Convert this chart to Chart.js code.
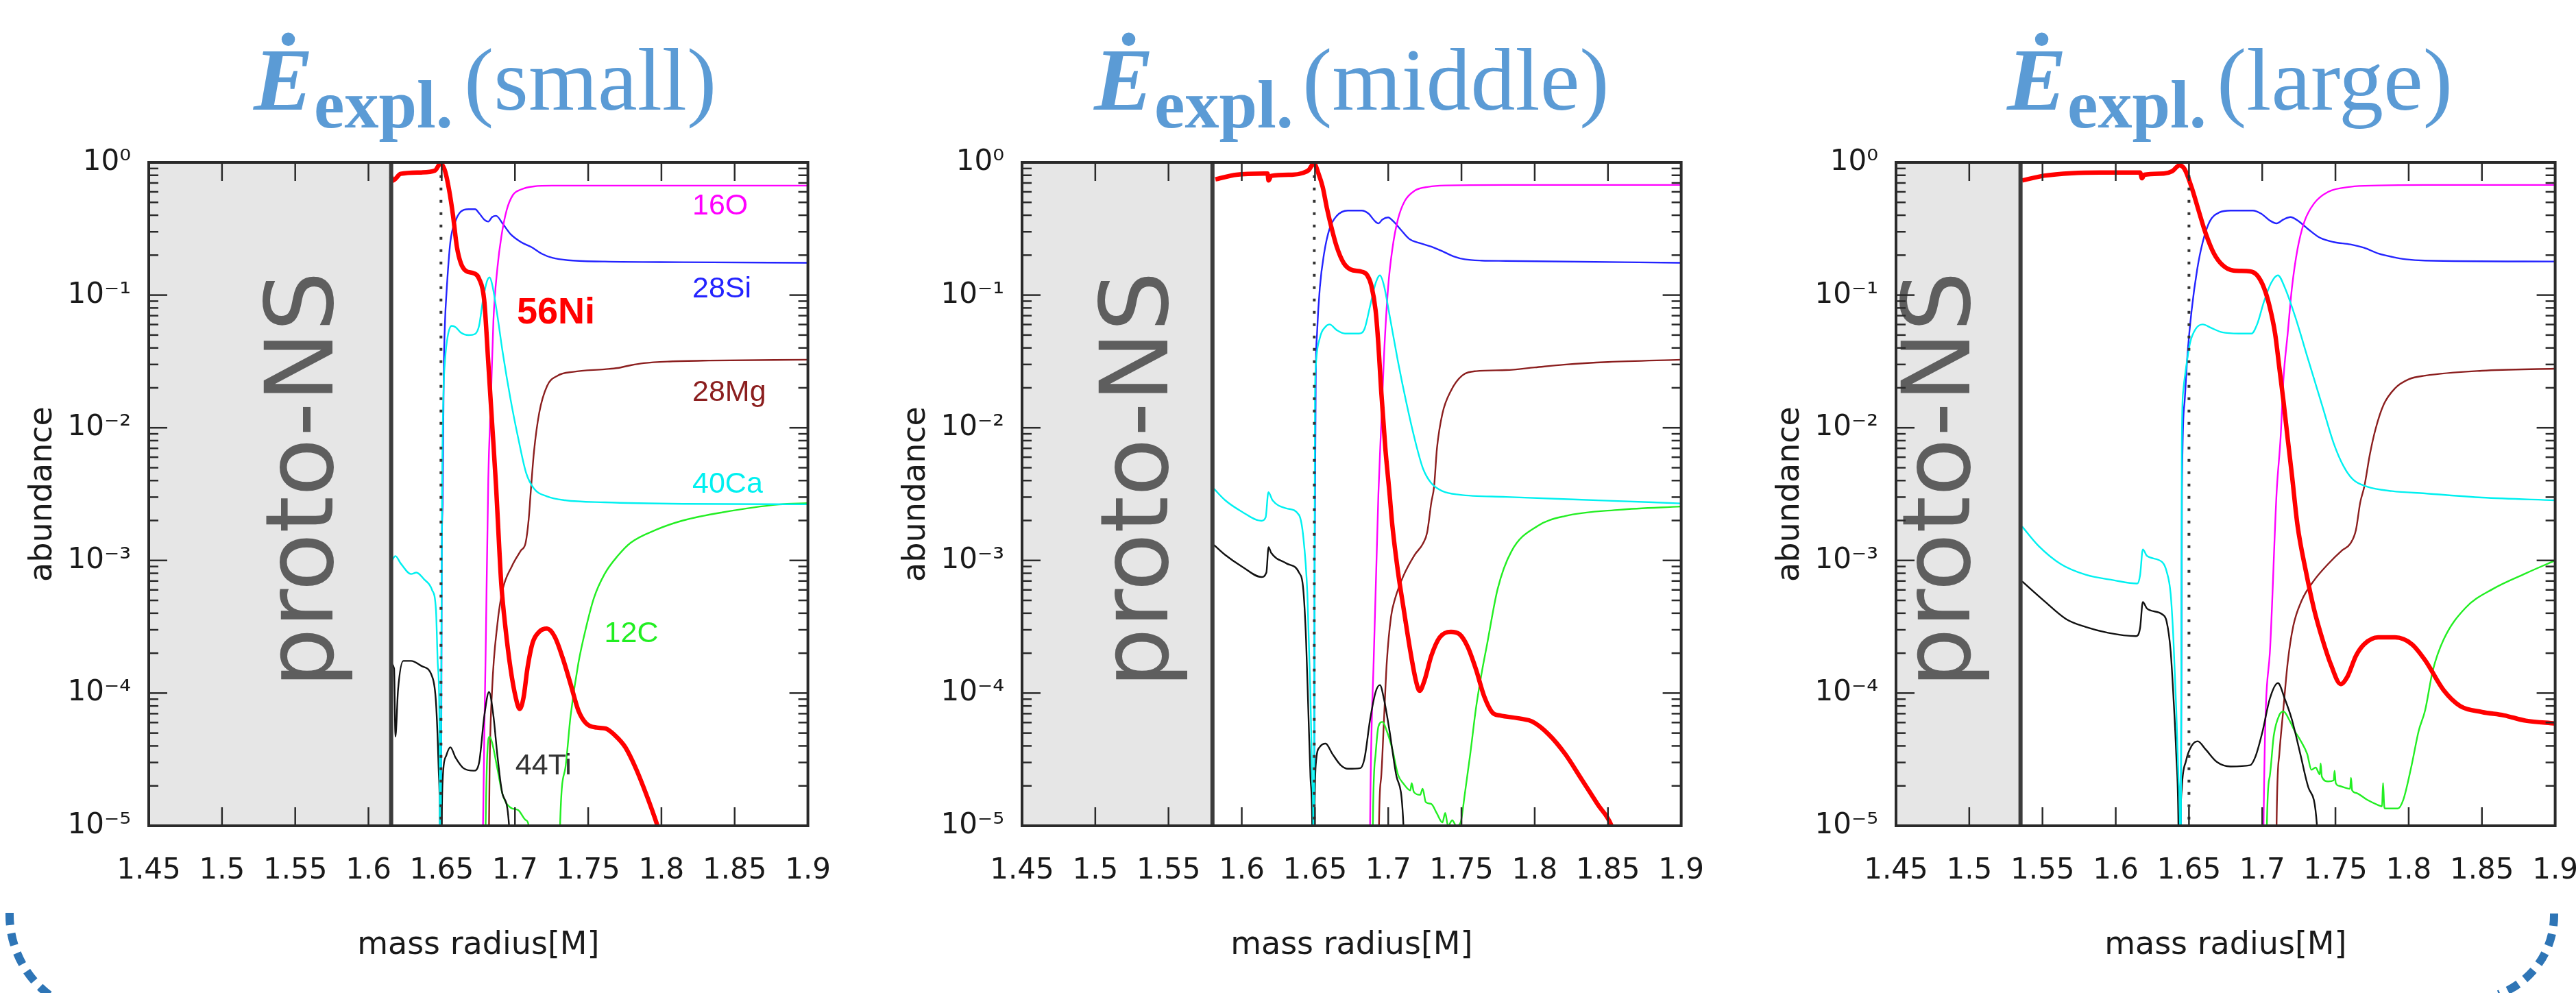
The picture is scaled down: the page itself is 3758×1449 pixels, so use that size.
<!DOCTYPE html>
<html><head><meta charset="utf-8">
<script src="https://cdn.jsdelivr.net/npm/chart.js@4.4.1/dist/chart.umd.min.js"></script>
<style>
html,body{margin:0;padding:0;background:#fff;width:3758px;height:1449px;overflow:hidden;position:relative;}
canvas{position:absolute;top:0;}
.t{position:absolute;color:#5b9bd5;font-family:"Liberation Serif",serif;white-space:nowrap;line-height:1;}
.E{font-size:130px;font-weight:bold;font-style:italic;top:51px;}
.s{font-size:100px;font-weight:bold;top:103px;}
.p{font-size:130px;top:51px;}
svg{position:absolute;left:0;top:0;}
</style></head><body>
<div class="t E" style="left:370px">Ė</div><div class="t s" style="left:458px">expl.</div><div class="t p" style="left:677px">(small)</div>
<div class="t E" style="left:1596px">Ė</div><div class="t s" style="left:1684px">expl.</div><div class="t p" style="left:1900px">(middle)</div>
<div class="t E" style="left:2928px">Ė</div><div class="t s" style="left:3016px">expl.</div><div class="t p" style="left:3234px">(large)</div>
<svg width="3758" height="1449" viewBox="0 0 3758 1449">
<path d="M 14 1332 A 147 147 0 0 0 87.5 1462.3" fill="none" stroke="#2e75b6" stroke-width="12" stroke-dasharray="18 12"/>
<path d="M 3726 1333 A 123 123 0 0 1 3645 1451" fill="none" stroke="#2e75b6" stroke-width="12" stroke-dasharray="18 12"/>
</svg>
<script>
// ---------- axes ----------
const xTickValues = [1.45,1.5,1.55,1.6,1.65,1.7,1.75,1.8,1.85,1.9];
const yTickValues = [1e-5,1e-4,1e-3,1e-2,1e-1,1];
const yTickLabels = ['10⁻⁵','10⁻⁴','10⁻³','10⁻²','10⁻¹','10⁰'];
const yMinorFactors = [2,3,4,5,6,7,8,9];
// ---------- panels ----------
const panelNames = ['small','middle','large'];
const nsMass = [1.6155, 1.580, 1.535];     // proto-NS surface
const cutMass = [1.6495, 1.6495, 1.650];   // dotted line
const cutTop = 0.8;

// ---------- E_expl (small) ----------
const small_Ni = [[1.6155,0.78],[1.6167,0.73],[1.622,0.82],[1.636,0.84],[1.6455,0.87],[1.6491,0.98],[1.6523,0.86],[1.655,0.625],[1.6577,0.40],[1.6604,0.23],[1.663,0.175],[1.6666,0.152],[1.672,0.146],[1.6755,0.133],[1.679,0.092],[1.6818,0.031],[1.6845,0.0104],[1.6871,3.65e-3],[1.6893,1.23e-3],[1.6907,6.6e-4],[1.6934,3.2e-4],[1.697,1.53e-4],[1.7005,9.3e-5],[1.7032,7.6e-5],[1.7059,9.3e-5],[1.7085,1.53e-4],[1.7121,2.4e-4],[1.7166,2.9e-4],[1.7219,3.06e-4],[1.7273,2.64e-4],[1.7326,1.84e-4],[1.738,1.17e-4],[1.7433,7.4e-5],[1.7487,5.9e-5],[1.7558,5.5e-5],[1.762,5.4e-5],[1.7683,4.8e-5],[1.7754,3.9e-5],[1.7826,2.7e-5],[1.7897,1.72e-5],[1.7968,1.04e-5],[1.8,8e-6]];
const small_Si = [[1.6494,1e-6],[1.65,1e-3],[1.6506,2.65e-3],[1.6511,0.0104],[1.6514,0.0258],[1.6523,0.0646],[1.6532,0.101],[1.6559,0.251],[1.6595,0.363],[1.663,0.425],[1.6684,0.444],[1.6728,0.444],[1.6755,0.415],[1.6791,0.37],[1.6818,0.358],[1.6844,0.387],[1.6871,0.396],[1.6916,0.346],[1.697,0.288],[1.7041,0.251],[1.7112,0.23],[1.7183,0.205],[1.7255,0.191],[1.7362,0.183],[1.7612,0.179],[1.8147,0.177],[1.9,0.175]];
const small_O = [[1.6775,1e-6],[1.6782,1e-5],[1.68,2e-4],[1.6818,4.1e-3],[1.6836,0.0164],[1.6853,0.064],[1.688,0.159],[1.6907,0.275],[1.6943,0.435],[1.6987,0.57],[1.7041,0.625],[1.713,0.66],[1.7255,0.668],[1.9,0.668]];
const small_Mg = [[1.6818,1e-6],[1.6823,1e-5],[1.6827,2.7e-5],[1.6844,1.06e-4],[1.688,3.3e-4],[1.6916,6.0e-4],[1.6978,9.0e-4],[1.7041,1.19e-3],[1.7073,1.36e-3],[1.7094,2.05e-3],[1.7108,3.3e-3],[1.713,6.6e-3],[1.7166,0.013],[1.7219,0.0206],[1.7291,0.0247],[1.7398,0.0264],[1.7612,0.0276],[1.7701,0.0282],[1.779,0.0296],[1.7879,0.0307],[1.8058,0.0316],[1.8325,0.0321],[1.9,0.0326]];
const small_Ca = [[1.6158,9.9e-4],[1.6184,1.08e-3],[1.622,9.5e-4],[1.6291,7.9e-4],[1.6327,8.1e-4],[1.638,7.2e-4],[1.6434,6.0e-4],[1.6461,4.2e-4],[1.6473,1.68e-4],[1.6484,6.8e-5],[1.6491,1e-6],[1.6497,1e-4],[1.6502,2.65e-3],[1.6511,0.0164],[1.6523,0.0324],[1.6541,0.0489],[1.6568,0.0586],[1.6595,0.0573],[1.663,0.0522],[1.6684,0.0499],[1.6728,0.051],[1.6755,0.0586],[1.6782,0.0923],[1.6809,0.127],[1.6827,0.136],[1.6844,0.121],[1.688,0.0703],[1.6916,0.0372],[1.697,0.0164],[1.7023,8.28e-3],[1.7076,4.58e-3],[1.713,3.48e-3],[1.7219,3.04e-3],[1.7344,2.84e-3],[1.7612,2.74e-3],[1.8147,2.67e-3],[1.9,2.65e-3]];
const small_C = [[1.6795,1e-6],[1.68,1e-5],[1.6827,4.7e-5],[1.6845,4.2e-5],[1.688,2.7e-5],[1.6916,1.72e-5],[1.697,1.37e-5],[1.7023,1.31e-5],[1.7076,1.1e-5],[1.7094,1e-5],[1.711,1e-6],[1.7298,1e-6],[1.7308,1e-5],[1.7344,2.72e-5],[1.738,6.75e-5],[1.7433,1.68e-4],[1.7487,3.17e-4],[1.754,5.24e-4],[1.7612,7.9e-4],[1.7701,1.08e-3],[1.779,1.36e-3],[1.7968,1.71e-3],[1.8147,2.0e-3],[1.8414,2.3e-3],[1.8803,2.64e-3],[1.9,2.7e-3]];
const small_Ti = [[1.6149,1.68e-4],[1.6175,1.53e-4],[1.6184,4.7e-5],[1.6202,1.06e-4],[1.6238,1.75e-4],[1.6291,1.75e-4],[1.6363,1.6e-4],[1.6434,1.34e-4],[1.6461,8.5e-5],[1.6479,2.7e-5],[1.6488,1e-5],[1.6493,1e-6],[1.65,1e-5],[1.6506,2.16e-5],[1.6532,3.41e-5],[1.6559,3.91e-5],[1.6595,3.26e-5],[1.6648,2.72e-5],[1.672,2.6e-5],[1.6755,2.98e-5],[1.6791,6.75e-5],[1.6823,1.02e-4],[1.6853,6.75e-5],[1.688,3.41e-5],[1.6916,1.72e-5],[1.696,1e-5],[1.698,1e-6]];

// ---------- E_expl (middle) ----------
const middle_Ni = [[1.582,0.746],[1.5963,0.807],[1.6153,0.824],[1.6176,0.824],[1.6183,0.731],[1.6201,0.792],[1.6343,0.807],[1.6419,0.834],[1.6457,0.875],[1.6492,0.984],[1.6524,0.824],[1.6553,0.649],[1.6581,0.454],[1.661,0.331],[1.6648,0.232],[1.6695,0.175],[1.6743,0.156],[1.6819,0.15],[1.6857,0.141],[1.6885,0.118],[1.6914,0.0762],[1.6933,0.042],[1.6952,0.019],[1.698,7.06e-3],[1.7009,3.2e-3],[1.7028,1.84e-3],[1.7066,8.3e-4],[1.7104,4.4e-4],[1.7151,2.07e-4],[1.7189,1.24e-4],[1.7214,1.04e-4],[1.7247,1.24e-4],[1.7294,1.91e-4],[1.7351,2.63e-4],[1.7428,2.9e-4],[1.7485,2.79e-4],[1.7542,2.24e-4],[1.7599,1.51e-4],[1.7656,9.4e-5],[1.7713,7.1e-5],[1.7761,6.8e-5],[1.7909,6.4e-5],[1.7983,6.1e-5],[1.8094,4.9e-5],[1.8206,3.5e-5],[1.8318,2.26e-5],[1.843,1.45e-5],[1.8523,1.01e-5],[1.855,8e-6]];
const middle_Si = [[1.6492,1e-6],[1.6498,1e-3],[1.6505,0.0232],[1.6514,0.0513],[1.6533,0.1135],[1.6562,0.206],[1.66,0.318],[1.6648,0.395],[1.6724,0.434],[1.6819,0.434],[1.6866,0.411],[1.6904,0.366],[1.6933,0.347],[1.6961,0.372],[1.6999,0.385],[1.7037,0.358],[1.7085,0.312],[1.7142,0.266],[1.7218,0.246],[1.7294,0.232],[1.737,0.214],[1.7446,0.196],[1.7523,0.186],[1.7637,0.182],[1.7804,0.181],[1.9,0.175]];
const middle_O = [[1.687,1e-6],[1.6876,1e-5],[1.6902,2e-4],[1.6933,3.2e-3],[1.6952,0.0105],[1.6971,0.0345],[1.6999,0.1135],[1.7028,0.222],[1.7066,0.372],[1.7113,0.512],[1.718,0.612],[1.7275,0.655],[1.7389,0.67],[1.78,0.676],[1.9,0.676]];
const middle_Mg = [[1.6932,1e-6],[1.6937,1e-5],[1.6952,2.34e-5],[1.6971,6.3e-5],[1.699,1.7e-4],[1.7019,3.76e-4],[1.7047,5.16e-4],[1.7104,7.67e-4],[1.718,1.1e-3],[1.7237,1.34e-3],[1.7266,1.63e-3],[1.7294,2.73e-3],[1.7313,3.6e-3],[1.7333,7.06e-3],[1.737,0.0128],[1.7428,0.019],[1.7504,0.0247],[1.7599,0.0267],[1.7804,0.0272],[1.8,0.0285],[1.82,0.0299],[1.85,0.0313],[1.9,0.0326]];
const middle_Ca = [[1.581,3.47e-3],[1.5887,2.84e-3],[1.6001,2.33e-3],[1.6134,1.99e-3],[1.6163,2.11e-3],[1.6182,3.27e-3],[1.621,2.84e-3],[1.6305,2.47e-3],[1.6391,2.2e-3],[1.642,1.51e-3],[1.6448,5.6e-4],[1.6467,1.15e-4],[1.6481,2.34e-5],[1.6488,1e-5],[1.6492,1e-6],[1.6497,1e-3],[1.65,0.0156],[1.6505,0.0283],[1.6533,0.0474],[1.6572,0.0578],[1.66,0.0601],[1.6648,0.0545],[1.6705,0.0513],[1.68,0.0513],[1.6838,0.0556],[1.6876,0.0826],[1.6914,0.123],[1.6943,0.141],[1.6971,0.118],[1.7009,0.0705],[1.7066,0.0318],[1.7123,0.0156],[1.718,8.28e-3],[1.7237,4.94e-3],[1.7294,3.82e-3],[1.737,3.33e-3],[1.7485,3.13e-3],[1.7804,3.01e-3],[1.85,2.82e-3],[1.9,2.69e-3]];
const middle_C = [[1.689,1e-6],[1.6895,1e-5],[1.6914,3.48e-5],[1.6933,5.6e-5],[1.6961,6.07e-5],[1.699,5.18e-5],[1.7028,3.77e-5],[1.7066,2.44e-5],[1.7104,2.08e-5],[1.7151,1.85e-5],[1.716,2.1e-5],[1.7175,1.8e-5],[1.7218,1.71e-5],[1.7235,1.9e-5],[1.7256,1.51e-5],[1.7294,1.46e-5],[1.7332,1.24e-5],[1.737,1.06e-5],[1.7389,1.25e-5],[1.7408,1e-5],[1.7437,1.1e-5],[1.7465,1e-5],[1.7494,1.06e-5],[1.7522,1.71e-5],[1.756,3.48e-5],[1.7599,7.7e-5],[1.7637,1.4e-4],[1.7675,2.34e-4],[1.7747,6.1e-4],[1.7841,1.17e-3],[1.802,1.82e-3],[1.8206,2.16e-3],[1.8579,2.41e-3],[1.9,2.55e-3]];
const middle_Ti = [[1.581,1.31e-3],[1.5887,1.1e-3],[1.6001,9.0e-4],[1.6134,7.5e-4],[1.6168,8.1e-4],[1.6183,1.26e-3],[1.6201,1.14e-3],[1.6305,9.5e-4],[1.6391,8.1e-4],[1.642,6.05e-4],[1.6439,2.53e-4],[1.6454,7.7e-5],[1.6469,2.34e-5],[1.6481,1e-5],[1.6487,1e-6],[1.6495,1e-5],[1.6505,2.86e-5],[1.6533,3.93e-5],[1.6572,4.17e-5],[1.6619,3.48e-5],[1.6676,2.86e-5],[1.6724,2.69e-5],[1.6809,2.72e-5],[1.6838,3.22e-5],[1.6876,6.3e-5],[1.6914,1.02e-4],[1.6943,1.15e-4],[1.6971,9.0e-5],[1.7009,5.18e-5],[1.7057,2.34e-5],[1.7104,1e-5],[1.712,1e-6]];

// ---------- E_expl (large) ----------
const large_Ni = [[1.5361,0.731],[1.551,0.794],[1.57,0.83],[1.589,0.84],[1.6166,0.84],[1.6179,0.76],[1.6195,0.807],[1.6328,0.824],[1.6385,0.857],[1.6435,0.95],[1.647,0.89],[1.6518,0.649],[1.6565,0.437],[1.6613,0.294],[1.667,0.206],[1.6727,0.169],[1.6803,0.153],[1.6917,0.151],[1.6965,0.141],[1.7012,0.1135],[1.705,0.0826],[1.7088,0.0513],[1.7117,0.0283],[1.7146,0.0156],[1.7174,8.28e-3],[1.7203,4.39e-3],[1.7241,1.84e-3],[1.7298,8.3e-4],[1.7355,4.24e-4],[1.7412,2.53e-4],[1.7469,1.64e-4],[1.7536,1.17e-4],[1.7583,1.34e-4],[1.764,1.91e-4],[1.7697,2.34e-4],[1.7792,2.63e-4],[1.7907,2.63e-4],[1.8021,2.34e-4],[1.8112,1.77e-4],[1.8239,1.05e-4],[1.8351,8.0e-5],[1.85,7.2e-5],[1.865,6.8e-5],[1.8799,6.2e-5],[1.9,5.9e-5]];
const large_Si = [[1.6443,1e-6],[1.6452,3.2e-3],[1.647,0.0156],[1.6489,0.0345],[1.6518,0.0764],[1.6556,0.156],[1.6594,0.251],[1.6641,0.358],[1.6708,0.42],[1.6784,0.434],[1.6936,0.434],[1.6993,0.411],[1.705,0.366],[1.7098,0.347],[1.7146,0.372],[1.7193,0.387],[1.724,0.366],[1.7317,0.312],[1.7393,0.271],[1.7488,0.251],[1.7602,0.241],[1.7697,0.227],[1.7792,0.206],[1.7887,0.194],[1.7982,0.186],[1.8112,0.182],[1.9,0.179]];
const large_O = [[1.7005,1e-6],[1.7009,1e-5],[1.7052,2e-4],[1.7098,3.2e-3],[1.7126,8.6e-3],[1.7145,0.0232],[1.7174,0.0513],[1.7203,0.1135],[1.7241,0.222],[1.7288,0.358],[1.7355,0.492],[1.745,0.6],[1.7602,0.655],[1.7792,0.67],[1.8112,0.676],[1.9,0.676]];
const large_Mg = [[1.7093,1e-6],[1.7098,1e-5],[1.7117,3.48e-5],[1.7145,7.7e-5],[1.7174,1.7e-4],[1.7212,3.2e-4],[1.7269,4.97e-4],[1.7355,7.1e-4],[1.745,9.4e-4],[1.7545,1.19e-3],[1.7602,1.34e-3],[1.764,1.7e-3],[1.7669,2.73e-3],[1.7697,3.6e-3],[1.7735,6.3e-3],[1.7773,9.7e-3],[1.783,0.015],[1.7906,0.0198],[1.8001,0.0232],[1.8112,0.0247],[1.85,0.0269],[1.9,0.0279]];
const large_Ca = [[1.5361,1.8e-3],[1.5472,1.29e-3],[1.5624,9.4e-4],[1.5795,7.8e-4],[1.5985,7.1e-4],[1.6147,6.7e-4],[1.6166,7.7e-4],[1.6185,1.21e-3],[1.6214,1.08e-3],[1.6318,9.7e-4],[1.6347,8.3e-4],[1.6375,5.6e-4],[1.6394,2.53e-4],[1.6413,7.7e-5],[1.6428,2.34e-5],[1.6438,1e-5],[1.6443,1e-6],[1.6451,7.06e-3],[1.6461,0.019],[1.648,0.0283],[1.6508,0.0438],[1.6546,0.0556],[1.6594,0.0601],[1.6651,0.0566],[1.6727,0.0524],[1.6841,0.0513],[1.6927,0.0513],[1.6965,0.0601],[1.7012,0.0893],[1.706,0.123],[1.7107,0.141],[1.7155,0.1135],[1.7222,0.0705],[1.7317,0.0318],[1.7412,0.0144],[1.7488,7.64e-3],[1.7555,5.14e-3],[1.7621,4.06e-3],[1.7716,3.6e-3],[1.7887,3.33e-3],[1.8112,3.2e-3],[1.85,2.98e-3],[1.9,2.84e-3]];
const large_C = [[1.7028,1e-6],[1.7032,1e-5],[1.7051,2.34e-5],[1.7079,4.79e-5],[1.7117,6.84e-5],[1.7146,7.26e-5],[1.7184,6.3e-5],[1.7222,5.18e-5],[1.726,4.42e-5],[1.7307,3.48e-5],[1.7336,2.64e-5],[1.7365,2.75e-5],[1.7393,2.44e-5],[1.7399,2.95e-5],[1.7407,2.35e-5],[1.745,2.16e-5],[1.7488,2.2e-5],[1.7494,2.6e-5],[1.7502,2.1e-5],[1.7526,2.0e-5],[1.76,1.9e-5],[1.7606,2.3e-5],[1.7614,1.85e-5],[1.764,1.77e-5],[1.7716,1.57e-5],[1.7792,1.43e-5],[1.7818,1.4e-5],[1.7825,2.1e-5],[1.7833,1.4e-5],[1.7839,1.35e-5],[1.7925,1.35e-5],[1.7963,1.57e-5],[1.802,2.86e-5],[1.8068,5.18e-5],[1.8112,7.4e-5],[1.8164,1.47e-4],[1.8239,2.54e-4],[1.8388,4.39e-4],[1.8575,6.1e-4],[1.88,8.0e-4],[1.9,1.0e-3]];
const large_Ti = [[1.5361,6.95e-4],[1.551,4.97e-4],[1.5662,3.61e-4],[1.5795,3.15e-4],[1.5947,2.85e-4],[1.6138,2.69e-4],[1.6166,3.08e-4],[1.6185,4.86e-4],[1.6214,4.33e-4],[1.6318,3.92e-4],[1.6347,3.48e-4],[1.6375,2.07e-4],[1.6394,9.4e-5],[1.6413,3.48e-5],[1.6428,1e-5],[1.6435,1e-6],[1.6442,1e-5],[1.6451,1.92e-5],[1.648,3.09e-5],[1.6518,4.0e-5],[1.656,4.34e-5],[1.6613,3.77e-5],[1.669,3.03e-5],[1.6784,2.8e-5],[1.6917,2.86e-5],[1.6955,3.35e-5],[1.7003,5.18e-5],[1.7051,9.0e-5],[1.7107,1.19e-4],[1.7155,9.0e-5],[1.7203,6.3e-5],[1.726,3.48e-5],[1.7317,1.92e-5],[1.7374,1e-5],[1.74,1e-6]];

// isotope labels (first panel only): [text, mass, abundance at baseline]
const smallLabels = [['16O',1.8211,0.405],['28Si',1.8211,0.096],['28Mg',1.8211,0.01594],['40Ca',1.8211,3.24e-3],['56Ni',1.7013,0.0611],['12C',1.761,2.42e-4],['44Ti',1.7003,2.44e-5]];

// ---------- presentation ----------
const drawOrder = ['56Ni','40Ca','44Ti','12C','28Mg','16O','28Si']; // first drawn on top
const colors = {'56Ni':'#ff0000','28Si':'#2323ff','16O':'#ff00ff','28Mg':'#8b1e1e','40Ca':'#00f0f0','12C':'#22ee22','44Ti':'#111111'};
const panelData = [
  {'56Ni':small_Ni,'28Si':small_Si,'16O':small_O,'28Mg':small_Mg,'40Ca':small_Ca,'12C':small_C,'44Ti':small_Ti},
  {'56Ni':middle_Ni,'28Si':middle_Si,'16O':middle_O,'28Mg':middle_Mg,'40Ca':middle_Ca,'12C':middle_C,'44Ti':middle_Ti},
  {'56Ni':large_Ni,'28Si':large_Si,'16O':large_O,'28Mg':large_Mg,'40Ca':large_Ca,'12C':large_C,'44Ti':large_Ti}
];
const panelLeft = [217, 1491, 2766];
const protoBaseMass = [1.5754, 1.5493, 1.4999];
const AXW = 217, AXH = 244, PLOTW = 966, RIGHTPAD = 70;

Chart.defaults.font.family = '"DejaVu Sans", sans-serif';
Chart.defaults.color = '#1a1a1a';

const decor = {
  id: 'decor',
  beforeDatasetsDraw(chart, args, opts) {
    const {ctx, chartArea: a, scales: {x}} = chart;
    const p = opts.panel;
    const nsX = x.getPixelForValue(nsMass[p]);
    ctx.save();
    ctx.fillStyle = '#e6e6e6';
    ctx.fillRect(a.left, a.top, nsX - a.left, a.bottom - a.top);
    ctx.translate(x.getPixelForValue(protoBaseMass[p]), (a.top + a.bottom) / 2 - 21);
    ctx.rotate(-Math.PI / 2);
    ctx.font = '138px "DejaVu Sans"';
    ctx.fillStyle = '#5e5e5e';
    ctx.textAlign = 'center';
    ctx.textBaseline = 'alphabetic';
    ctx.fillText('proto-NS', 0, 0);
    ctx.restore();
  },
  afterDatasetsDraw(chart, args, opts) {
    const {ctx, chartArea: a, scales: {x, y}} = chart;
    const p = opts.panel;
    const line = (x1, y1, x2, y2) => { ctx.beginPath(); ctx.moveTo(x1, y1); ctx.lineTo(x2, y2); ctx.stroke(); };
    ctx.save();
    const nsX = x.getPixelForValue(nsMass[p]);
    ctx.strokeStyle = '#3c3c3c'; ctx.lineWidth = 6;
    line(nsX, a.top, nsX, a.bottom);
    const cX = x.getPixelForValue(cutMass[p]);
    ctx.setLineDash([4, 14]); ctx.lineWidth = 4; ctx.strokeStyle = '#333';
    line(cX, y.getPixelForValue(cutTop), cX, a.bottom);
    ctx.setLineDash([]);
    ctx.strokeStyle = '#2a2a2a'; ctx.lineWidth = 2.5;
    xTickValues.forEach(v => { const px = x.getPixelForValue(v); line(px, a.bottom, px, a.bottom - 27); line(px, a.top, px, a.top + 27); });
    yTickValues.forEach((v, i) => {
      const py = y.getPixelForValue(v);
      line(a.left, py, a.left + 27, py); line(a.right, py, a.right - 27, py);
      if (i < yTickValues.length - 1) yMinorFactors.forEach(f => {
        const pm = y.getPixelForValue(v * f);
        line(a.left, pm, a.left + 14, pm); line(a.right, pm, a.right - 14, pm);
      });
    });
    ctx.lineWidth = 4; ctx.strokeStyle = '#2a2a2a';
    ctx.strokeRect(a.left, a.top, a.right - a.left, a.bottom - a.top);
    (opts.labels || []).forEach(([t, mx, my]) => {
      ctx.fillStyle = t === '44Ti' ? '#333' : colors[t];
      ctx.font = t === '56Ni' ? 'bold 54px "Liberation Sans"' : '43px "Liberation Sans"';
      ctx.textAlign = 'left'; ctx.textBaseline = 'alphabetic';
      ctx.fillText(t, x.getPixelForValue(mx), y.getPixelForValue(my));
    });
    ctx.restore();
  }
};

panelNames.forEach((name, p) => {
  const cv = document.createElement('canvas');
  cv.width = AXW + PLOTW + RIGHTPAD; cv.height = 1449;
  cv.style.left = (panelLeft[p] - AXW) + 'px';
  document.body.appendChild(cv);
  new Chart(cv, {
    type: 'line',
    data: {
      datasets: drawOrder.map(k => ({
        label: k,
        data: panelData[p][k].map(([mx, ab]) => ({x: mx, y: ab})),
        borderColor: colors[k],
        borderWidth: k === '56Ni' ? 6.5 : 2.4,
        pointRadius: 0,
        fill: false,
        cubicInterpolationMode: 'monotone'
      }))
    },
    options: {
      responsive: false, animation: false, events: [],
      layout: {padding: {left: 0, right: RIGHTPAD, top: 237, bottom: 0}},
      plugins: {legend: {display: false}, tooltip: {enabled: false}, title: {display: false},
        decor: {panel: p, labels: p === 0 ? smallLabels : []}},
      scales: {
        x: {
          type: 'linear', min: 1.45, max: 1.9,
          grid: {display: false, drawTicks: false}, border: {display: false},
          afterBuildTicks: s => { s.ticks = xTickValues.map(v => ({value: v})); },
          afterFit: s => { s.height = AXH; },
          ticks: {autoSkip: false, maxRotation: 0, padding: 41, color: '#1a1a1a', font: {size: 42}, callback: v => String(+Number(v).toFixed(2))},
          title: {display: true, text: 'mass radius[M]', color: '#1a1a1a', font: {size: 46}, padding: {top: 0, bottom: 41}}
        },
        y: {
          type: 'logarithmic', min: 1e-5, max: 1,
          grid: {display: false, drawTicks: false}, border: {display: false},
          afterBuildTicks: s => { s.ticks = yTickValues.map(v => ({value: v, major: true})); },
          afterFit: s => { s.width = AXW; },
          ticks: {autoSkip: false, padding: 26, color: '#1a1a1a', font: {size: 42}, callback: (v, i) => yTickLabels[i]},
          title: {display: true, text: 'abundance', color: '#1a1a1a', font: {size: 46}, padding: {top: 35, bottom: 0}}
        }
      }
    },
    plugins: [decor]
  });
});
</script>
</body></html>
